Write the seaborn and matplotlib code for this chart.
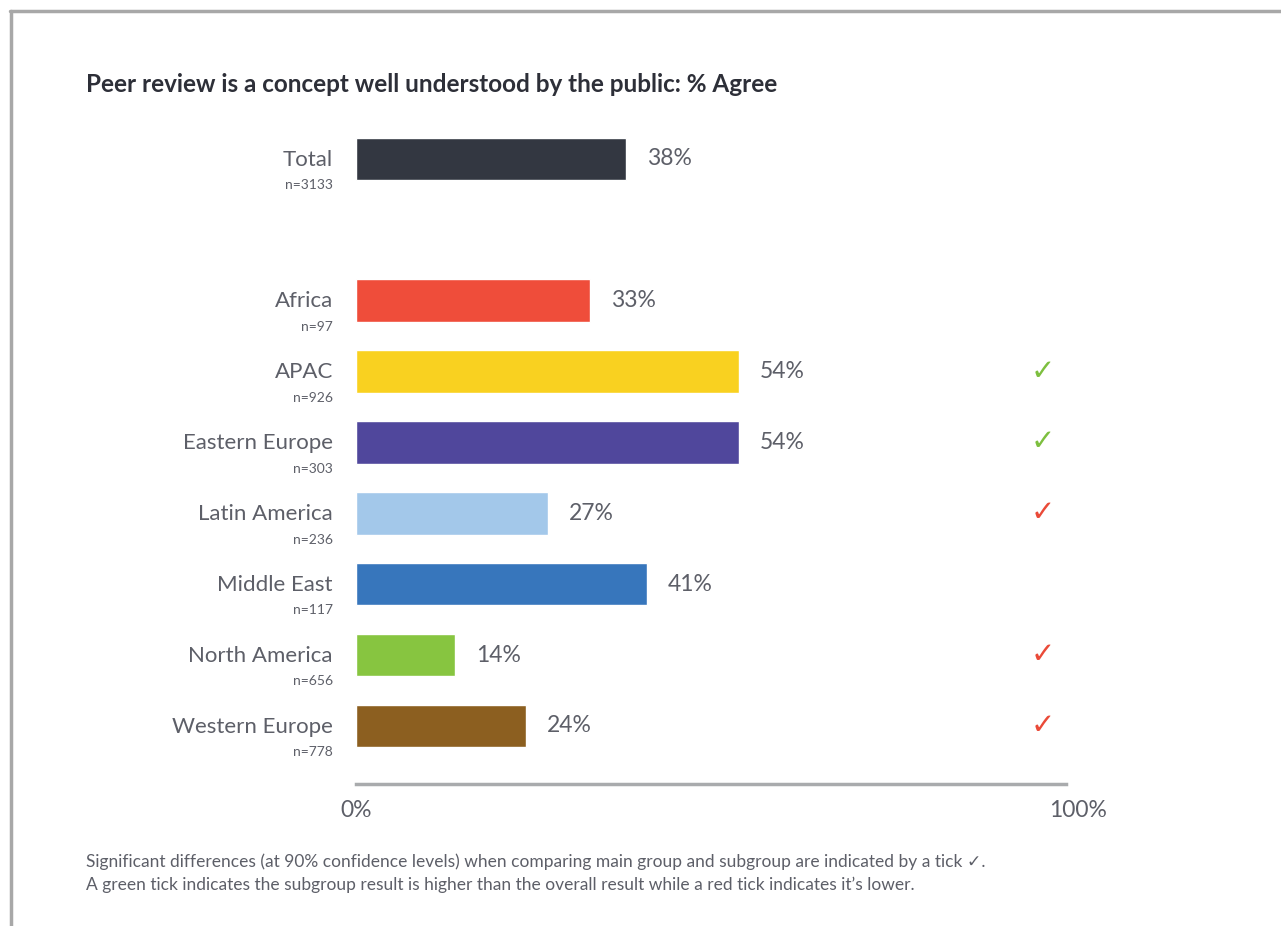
import matplotlib
matplotlib.use("Agg")
import matplotlib.pyplot as plt
from matplotlib.lines import Line2D
import seaborn as sns
import pandas as pd

# Survey results: share agreeing that peer review is well understood by the public
regions = ["Total", "Africa", "APAC", "Eastern Europe", "Latin America",
           "Middle East", "North America", "Western Europe"]
sample_sizes = ["n=3133", "n=97", "n=926", "n=303", "n=236", "n=117", "n=656", "n=778"]
agree_pct = [38, 33, 54, 54, 27, 41, 14, 24]
bar_colors = ["#333741", "#ef4d3a", "#f9d120", "#50479c", "#a3c8ea",
              "#3776bc", "#87c540", "#8c5f20"]
# significance vs. total: +1 higher (green tick), -1 lower (red tick), 0 none
significance = [0, 0, 1, 1, -1, 0, -1, -1]

TEXT = "#5d5f68"
TITLE = "#2d2f38"
GREEN = "#7dbf3f"
RED = "#ea4a38"

sns.set_theme(style="white")
plt.rcParams["font.family"] = ["Lato", "DejaVu Sans"]

df = pd.DataFrame({"region": regions, "agree": agree_pct})
order = [regions[0], " "] + regions[1:]   # spacer row between total and regions

fig = plt.figure(figsize=(12.81, 9.26), dpi=100)
ax = fig.add_axes([356 / 1281, (926 - 784) / 926, 710 / 1281, 664 / 926])

sns.barplot(data=df, x="agree", y="region", hue="region", order=order,
            hue_order=regions, palette=bar_colors, width=0.6, legend=False,
            saturation=1, ax=ax, orient="h")

ax.set_xlim(0, 100)
ax.set_ylim(8.82, -0.55)
ax.set_xlabel("")
ax.set_ylabel("")
ax.set_yticks([])
ax.set_xticks([])
for side in ["top", "right", "left"]:
    ax.spines[side].set_visible(False)
ax.spines["bottom"].set_color("#a9abad")
ax.spines["bottom"].set_linewidth(2.5)

# value labels at the end of each bar
for cont in ax.containers:
    ax.bar_label(cont, fmt="%d%%", padding=15, fontsize=16.5, color=TEXT)

# two-line category labels and significance ticks
ypos = {name: order.index(name) for name in regions}
for name, n, sig in zip(regions, sample_sizes, significance):
    y = ypos[name]
    ax.text(-3.24, y + 0.01, name, ha="right", va="center",
            fontsize=16, color=TEXT, clip_on=False)
    ax.text(-3.24, y + 0.37, n, ha="right", va="center",
            fontsize=10, color=TEXT, clip_on=False)
    if sig != 0:
        ax.text(96.8, y, "\u2713", ha="center", va="center", fontsize=21,
                color=GREEN if sig > 0 else RED, family="DejaVu Sans",
                clip_on=False)

# axis end labels
ax.text(0, 9.2, "0%", ha="center", va="center", fontsize=16.5, color=TEXT, clip_on=False)
ax.text(101.7, 9.2, "100%", ha="center", va="center", fontsize=16.5, color=TEXT, clip_on=False)

fig.text(86 / 1281, 1 - 84 / 926,
         "Peer review is a concept well understood by the public: % Agree",
         ha="left", va="center", fontsize=17.5, fontweight="bold", color=TITLE)

fig.text(86 / 1281, 1 - 862 / 926,
         "Significant differences (at 90% confidence levels) when comparing main group "
         "and subgroup are indicated by a tick \u2713.",
         ha="left", va="center", fontsize=12.5, color=TEXT)
fig.text(86 / 1281, 1 - 885 / 926,
         "A green tick indicates the subgroup result is higher than the overall result "
         "while a red tick indicates it\u2019s lower.",
         ha="left", va="center", fontsize=12.5, color=TEXT)

# page frame
fig.add_artist(Line2D([11 / 1281, 11 / 1281], [0, 1 - 11 / 926],
                      color="#a8a8a8", linewidth=2.5, transform=fig.transFigure))
fig.add_artist(Line2D([10 / 1281, 1], [1 - 11 / 926, 1 - 11 / 926],
                      color="#a8a8a8", linewidth=2.5, transform=fig.transFigure))

fig.savefig("out.png", dpi=100, facecolor="white")
